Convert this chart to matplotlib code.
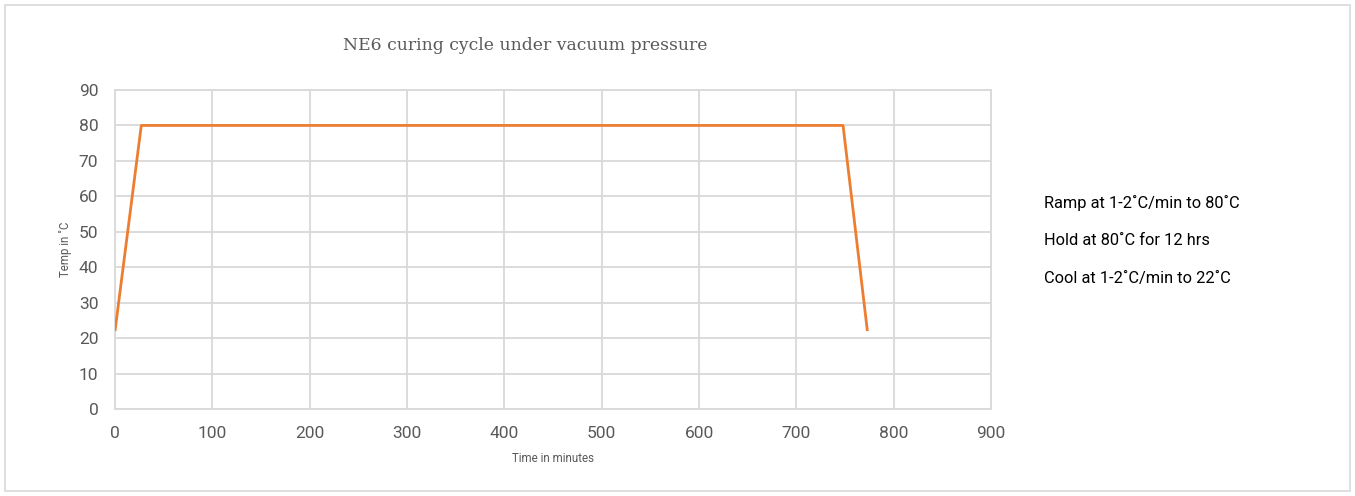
import matplotlib
matplotlib.use("Agg")
import matplotlib.pyplot as plt
from matplotlib.patches import Rectangle

time_min = [0, 27, 748, 773]
temp_c = [22, 80, 80, 22]
x_ticks = [0, 100, 200, 300, 400, 500, 600, 700, 800, 900]
y_ticks = [0, 10, 20, 30, 40, 50, 60, 70, 80, 90]
notes = ["Ramp at 1-2˚C/min to 80˚C", "Hold at 80˚C for 12 hrs", "Cool at 1-2˚C/min to 22˚C"]

W, H = 1355, 496
fig = plt.figure(figsize=(W / 100, H / 100), dpi=100)
fig.patch.set_facecolor("white")
fig.patches.append(Rectangle((5 / W, 5 / H), 1345 / W, 486 / H, transform=fig.transFigure,
                             fill=False, edgecolor="#d9d9d9", linewidth=1.2))

ax = fig.add_axes([115 / W, 1 - 409 / H, (991 - 115) / W, (409 - 90) / H])
ax.plot(time_min, temp_c, color="#ED7D31", linewidth=2.0, solid_capstyle="butt", zorder=3)
ax.set_xlim(0, 900)
ax.set_ylim(0, 90)
ax.set_xticks(x_ticks)
ax.set_yticks(y_ticks)
ax.grid(True, color="#d9d9d9", linewidth=1.3)
ax.set_axisbelow(True)
for s in ax.spines.values():
    s.set_color("#d9d9d9")
    s.set_linewidth(1.3)
ax.tick_params(length=0, labelsize=12.5, labelcolor="#595959")
ax.tick_params(axis="x", pad=12)
ax.tick_params(axis="y", pad=12)
for lab in ax.get_xticklabels() + ax.get_yticklabels():
    lab.set_fontfamily("Roboto")

fig.text(65 / W, 1 - 249 / H, "Temp in ˚C", rotation=90, ha="center", va="center",
         fontsize=8.3, color="#595959", family="Roboto")
fig.text(553 / W, 1 - 459 / H, "Time in minutes", ha="center", va="center",
         fontsize=8.3, color="#595959", family="Roboto")
fig.text(525 / W, 1 - 45 / H, "NE6 curing cycle under vacuum pressure", ha="center", va="center",
         fontsize=12.4, color="#595959", family="DejaVu Serif")

for i, n in enumerate(notes):
    fig.text(1044 / W, 1 - (203 + 38 * i) / H, n, ha="left", va="center",
             fontsize=11.8, color="black", family="Roboto")

fig.savefig("out.png", dpi=100)
